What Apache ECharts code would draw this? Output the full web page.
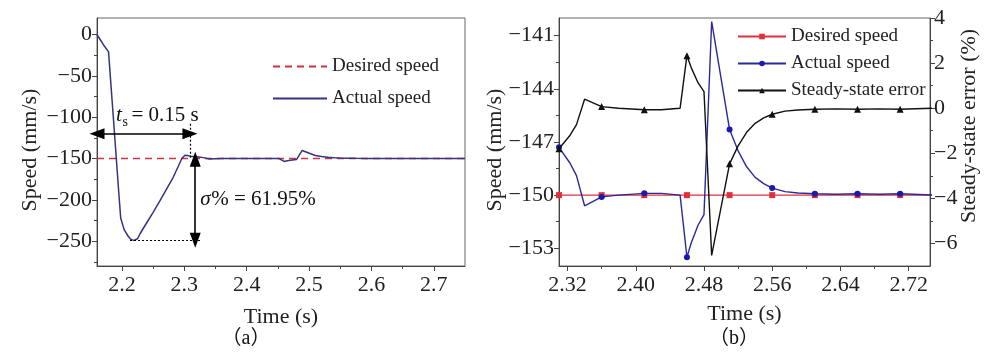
<!DOCTYPE html>
<html><head><meta charset="utf-8">
<script src="https://cdn.jsdelivr.net/npm/echarts@6/dist/echarts.min.js"></script>
<style>html,body{margin:0;padding:0;background:#fff}#c{width:984px;height:356px}</style>
</head><body><div id="c"></div>
<script>
// ---------- data ----------
const time = [2.160, 2.165, 2.170, 2.1785, 2.185, 2.19, 2.195, 2.198, 2.2035, 2.21, 2.2145, 2.219, 2.225, 2.229, 2.2395, 2.25, 2.261, 2.2715, 2.282, 2.29, 2.296, 2.301, 2.305,
  2.31, 2.323, 2.3305, 2.34, 2.36, 2.38, 2.41, 2.43, 2.452, 2.46, 2.465, 2.473, 2.48, 2.489, 2.51, 2.52, 2.53, 2.54, 2.55, 2.56, 2.575, 2.59, 2.61, 2.635, 2.66, 2.685, 2.71, 2.75];
const actualSpeed = [0, -6, -12, -21, -88, -140, -192, -222, -236, -244, -248, -249, -247, -241, -228, -215, -201, -187, -173, -160, -150, -146, -146.3,
  -147.3, -148.2, -148.9, -150.6, -150.1, -150.0, -149.9, -149.9, -150.0, -153.5, -152.7, -151.7, -151.1, -140.2, -146.3, -147.5, -148.4, -149.0, -149.35, -149.6, -149.8, -149.88, -149.92, -149.95, -149.92, -149.95, -149.92, -150.0];
const desiredTimeA = [2.16, 2.75];
const desiredSpeedA = [-150, -150];
const desiredTimeB = [2.31, 2.36, 2.41, 2.46, 2.51, 2.56, 2.61, 2.66, 2.71, 2.75];
const desiredSpeedB = [-150, -150, -150, -150, -150, -150, -150, -150, -150, -150];
const errorTime = [2.31, 2.323, 2.3305, 2.34, 2.36, 2.38, 2.41, 2.43, 2.452, 2.46, 2.465, 2.473, 2.48, 2.489, 2.51, 2.52, 2.53, 2.54, 2.55, 2.56, 2.575, 2.59, 2.61, 2.635, 2.66, 2.685, 2.71, 2.75];
const errorValue = [-1.8, -1.2, -0.73, 0.4, 0.07, 0.0, -0.07, -0.07, 0.0, 2.33, 1.8, 1.13, 0.73, -6.53, -2.47, -1.67, -1.07, -0.67, -0.43, -0.27, -0.13, -0.08, -0.05, -0.03, -0.05, -0.03, -0.05, 0.0];
const markerTimes = [2.31, 2.36, 2.41, 2.46, 2.51, 2.56, 2.61, 2.66, 2.71];
// tick labels
const xTicksA = [2.2, 2.3, 2.4, 2.5, 2.6, 2.7];
const xMinorA = [2.25, 2.35, 2.45, 2.55, 2.65];
const yTicksA = [-250, -200, -150, -100, -50, 0];
const yMinorA = [-275, -225, -175, -125, -75, -25];
const xTicksB = [2.32, 2.40, 2.48, 2.56, 2.64, 2.72];
const xMinorB = [2.36, 2.44, 2.52, 2.60, 2.68];
const yTicksB = [-153, -150, -147, -144, -141];
const yMinorB = [-151.5, -148.5, -145.5, -142.5];
const eTicksB = [-6, -4, -2, 0, 2, 4];
const eMinorB = [-5, -3, -1, 1, 3];

// ---------- styling helpers ----------
const FONT = "'Times New Roman', 'Liberation Serif', serif";
const AX = '#444';
const minus = v => String(v).replace('-', '\u2212');

function majorAxis(o) {
  return {
    type: 'value', gridIndex: o.grid, min: o.min, max: o.max, position: o.position,
    splitLine: { show: false },
    axisLine: { show: true, onZero: false, lineStyle: { color: AX, width: 1 } },
    axisTick: { show: true, inside: false, length: 5, customValues: o.ticks, lineStyle: { color: AX, width: 1 } },
    axisLabel: { show: true, customValues: o.ticks, color: '#222', fontFamily: FONT, fontSize: 22, margin: o.margin,
      formatter: v => minus(o.digits != null ? Number(v).toFixed(o.digits) : v) },
    name: o.name, nameLocation: 'middle', nameGap: o.nameGap, nameRotate: o.nameRotate, nameMoveOverlap: false,
    nameTextStyle: { color: '#222', fontFamily: FONT, fontSize: 22, padding: o.namePadding || 0 }
  };
}
function minorAxis(o) {
  return {
    type: 'value', gridIndex: o.grid, min: o.min, max: o.max, position: o.position,
    splitLine: { show: false },
    axisLine: { show: false, onZero: false },
    axisTick: { show: true, inside: false, length: 3, customValues: o.ticks, lineStyle: { color: AX, width: 1 } },
    axisLabel: { show: false }
  };
}

const chart = echarts.init(document.getElementById('c'), null, { renderer: 'canvas' });

const bActualData = time.map((t, i) => ({ value: [t, actualSpeed[i]] }))
  .filter(d => d.value[0] >= 2.31)
  .map(d => Object.assign(d, { symbol: markerTimes.includes(d.value[0]) ? 'circle' : 'none' }));
const bErrorData = errorTime.map((t, i) => ({ value: [t, errorValue[i]], symbol: markerTimes.includes(t) ? 'triangle' : 'none' }));
const bDesiredData = desiredTimeB.map((t, i) => ({ value: [t, desiredSpeedB[i]], symbol: markerTimes.includes(t) ? 'rect' : 'none' }));

const option = {
  animation: false,
  backgroundColor: '#fff',
  grid: [
    { left: 97, top: 18, width: 368, height: 248, show: true, borderColor: '#666', borderWidth: 1, backgroundColor: 'transparent', outerBoundsMode: 'none', containLabel: false },
    { left: 559, top: 18, width: 371, height: 248, show: true, borderColor: '#666', borderWidth: 1, backgroundColor: 'transparent', outerBoundsMode: 'none', containLabel: false }
  ],
  xAxis: [
    majorAxis({ grid: 0, min: 2.16, max: 2.75, position: 'bottom', ticks: xTicksA, digits: 1, margin: 8, name: 'Time (s)', nameGap: 40 }),
    minorAxis({ grid: 0, min: 2.16, max: 2.75, position: 'bottom', ticks: xMinorA }),
    majorAxis({ grid: 1, min: 2.31, max: 2.745, position: 'bottom', ticks: xTicksB, digits: 2, margin: 8, name: 'Time (s)', nameGap: 37 }),
    minorAxis({ grid: 1, min: 2.31, max: 2.745, position: 'bottom', ticks: xMinorB })
  ],
  yAxis: [
    majorAxis({ grid: 0, min: -280, max: 20, position: 'left', ticks: yTicksA, margin: 5, name: 'Speed (mm/s)', nameGap: 56, nameRotate: 90, namePadding: [0, 16, 0, 0] }),
    minorAxis({ grid: 0, min: -280, max: 20, position: 'left', ticks: yMinorA }),
    majorAxis({ grid: 1, min: -154, max: -140, position: 'left', ticks: yTicksB, margin: 5, name: 'Speed (mm/s)', nameGap: 53, nameRotate: 90, namePadding: [0, 16, 0, 0] }),
    minorAxis({ grid: 1, min: -154, max: -140, position: 'left', ticks: yMinorB }),
    majorAxis({ grid: 1, min: -7, max: 4, position: 'right', ticks: eTicksB, margin: 4, name: 'Steady-state error (%)', nameGap: 28, nameRotate: 90, namePadding: [0, 0, 0, 32] }),
    minorAxis({ grid: 1, min: -7, max: 4, position: 'right', ticks: eMinorB })
  ],
  legend: [
    { data: ['Desired speed', 'Actual speed'], orient: 'vertical', left: 272, top: 57, padding: 0,
      itemWidth: 54, itemHeight: 12, itemGap: 13, selectedMode: false,
      itemStyle: { opacity: 0 },
      textStyle: { fontFamily: FONT, fontSize: 19, color: '#222' } },
    { data: ['Desired speed (b)', 'Actual speed (b)', 'Steady-state error'], orient: 'vertical', left: 737, top: 27, padding: 0,
      itemWidth: 48, itemHeight: 7, itemGap: 8, selectedMode: false,
      formatter: n => n.replace(' (b)', ''),
      textStyle: { fontFamily: FONT, fontSize: 19, color: '#222' } }
  ],
  series: [
    { name: 'Desired speed', type: 'line', xAxisIndex: 0, yAxisIndex: 0, symbol: 'none',
      data: desiredTimeA.map((t, i) => [t, desiredSpeedA[i]]),
      lineStyle: { color: '#cc3344', width: 1.5, type: [7, 5] }, itemStyle: { color: '#cc3344' }, z: 2 },
    { name: 'Actual speed', type: 'line', xAxisIndex: 0, yAxisIndex: 0, symbol: 'none',
      data: time.map((t, i) => [t, actualSpeed[i]]),
      lineStyle: { color: '#34347f', width: 1.5 }, itemStyle: { color: '#34347f' }, z: 3,
      markLine: {
        silent: true, animation: false, symbol: ['none', 'none'], label: { show: false },
        emphasis: { disabled: true },
        data: [
          [{ coord: [2.16, -120], symbol: 'triangle', symbolSize: [11, 15], lineStyle: { color: '#000', width: 1.6, type: 'solid' } },
           { coord: [2.309, -120], symbol: 'triangle', symbolSize: [11, 15] }],
          [{ coord: [2.3175, -151], symbol: 'triangle', symbolSize: [11, 15], lineStyle: { color: '#000', width: 1.6, type: 'solid' } },
           { coord: [2.3175, -249], symbol: 'triangle', symbolSize: [11, 15] }],
          [{ coord: [2.309, -108], lineStyle: { color: '#000', width: 1.2, type: [2, 2] } }, { coord: [2.309, -150] }],
          [{ coord: [2.213, -249], lineStyle: { color: '#000', width: 1.2, type: [2, 2] } }, { coord: [2.328, -249] }]
        ]
      } },
    { name: 'Desired speed (b)', type: 'line', xAxisIndex: 2, yAxisIndex: 2, symbol: 'rect', symbolSize: 6, showSymbol: true,
      data: bDesiredData, lineStyle: { color: '#e0303a', width: 1.4 }, itemStyle: { color: '#e0303a' }, z: 2 },
    { name: 'Actual speed (b)', type: 'line', xAxisIndex: 2, yAxisIndex: 2, symbol: 'circle', symbolSize: 6, showSymbol: true,
      data: bActualData, lineStyle: { color: '#2a2a9a', width: 1.4 }, itemStyle: { color: '#1a1ab0' }, z: 3 },
    { name: 'Steady-state error', type: 'line', xAxisIndex: 2, yAxisIndex: 4, symbol: 'triangle', symbolSize: 7, showSymbol: true,
      data: bErrorData, lineStyle: { color: '#111', width: 1.4 }, itemStyle: { color: '#111' }, z: 4 }
  ]
};
chart.setOption(option);

const px = (t, v) => chart.convertToPixel({ xAxisIndex: 0, yAxisIndex: 0 }, [t, v]);
const tsPos = px(2.1904, -97.4);
const sgPos = px(2.3255, -199.5);
const txt = (x, y, text, size, style, extra) => Object.assign({ type: 'text', x: x, y: y,
  style: { text: text, fontFamily: FONT, fontSize: size, fontStyle: style || 'normal', fill: '#111', align: 'left', verticalAlign: 'middle' } }, extra || {});
chart.setOption({
  graphic: [
    { type: 'group', x: tsPos[0], y: tsPos[1], children: [
      txt(0, 0, 't', 21, 'italic'),
      txt(6.5, 7, 's', 14),
      txt(15.5, 0, '= 0.15 s', 21)
    ] },
    { type: 'group', x: sgPos[0], y: sgPos[1], children: [
      txt(0, 0, 'σ', 21, 'italic'),
      txt(11, 0, '% = 61.95%', 21)
    ] },
    { type: 'text', x: 246, y: 339, style: { text: '（a）', fontFamily: "'Liberation Serif', 'Noto Sans CJK SC', serif", fontSize: 20, fill: '#111', align: 'center', verticalAlign: 'middle' } },
    { type: 'text', x: 734, y: 339, style: { text: '（b）', fontFamily: "'Liberation Serif', 'Noto Sans CJK SC', serif", fontSize: 20, fill: '#111', align: 'center', verticalAlign: 'middle' } }
  ]
});
</script>
</body></html>
